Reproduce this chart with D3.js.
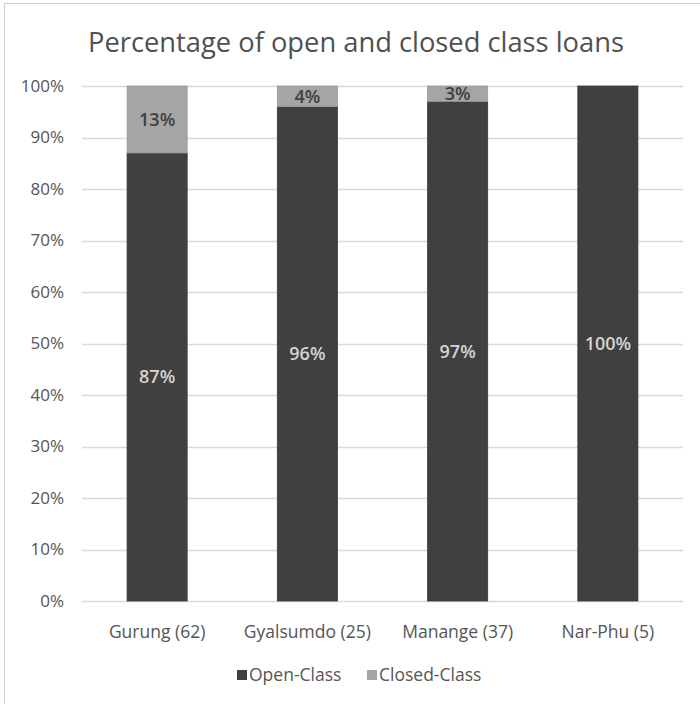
<!DOCTYPE html>
<html>
<head>
<meta charset="utf-8">
<script src="https://cdn.jsdelivr.net/npm/d3@7"></script>
<style>
  body { margin: 0; background: #fff; }
  svg { display: block; font-family: "Open Sans", "Noto Sans", sans-serif; }
</style>
</head>
<body>
<script>
const width = 700;
const height = 704;

const categories = ["Gurung (62)", "Gyalsumdo (25)", "Manange (37)", "Nar-Phu (5)"];
const openClass = [87, 96, 97, 100];
const closedClass = [13, 4, 3, 0];
const yTicks = [0, 10, 20, 30, 40, 50, 60, 70, 80, 90, 100];
const seriesNames = ["Open-Class", "Closed-Class"];
const seriesColors = ["#404040", "#a5a5a5"];

const svg = d3.select("body")
	.append("svg")
	.attr("width", width)
	.attr("height", height);

// chart frame (only top/left edge visible in the picture)
svg.append("rect")
	.attr("x", 4.5)
	.attr("y", 3.5)
	.attr("width", width)
	.attr("height", height)
	.attr("fill", "none")
	.attr("stroke", "#d0d0d0");

const x = d3.scaleBand()
	.domain(categories)
	.range([82, 683])
	.paddingInner(0.6)
	.paddingOuter(0.3);

const y = d3.scaleLinear()
	.domain([0, 100])
	.range([601, 86]);

// gridlines
svg.append("g")
	.selectAll("line")
	.data(yTicks)
	.enter()
	.append("line")
	.attr("x1", 82)
	.attr("x2", 683)
	.attr("y1", (d) => Math.round(y(d)) + 0.5)
	.attr("y2", (d) => Math.round(y(d)) + 0.5)
	.attr("stroke", "#d9d9d9")
	.attr("stroke-width", 1.5);

// y axis labels
svg.append("g")
	.selectAll("text")
	.data(yTicks)
	.enter()
	.append("text")
	.attr("x", 64)
	.attr("y", (d) => y(d))
	.attr("dy", "0.35em")
	.attr("text-anchor", "end")
	.attr("font-size", 17)
	.attr("fill", "#555")
	.text((d) => d + "%");

const rows = categories.map((c, i) => ({ cat: c, open: openClass[i], closed: closedClass[i] }));
const stacked = d3.stack().keys(["open", "closed"])(rows);

const layer = svg.append("g")
	.selectAll("g")
	.data(stacked)
	.enter()
	.append("g")
	.attr("fill", (d, i) => seriesColors[i]);

layer.selectAll("rect")
	.data((d) => d)
	.enter()
	.filter((d) => d[1] - d[0] > 0)
	.append("rect")
	.attr("x", (d) => x(d.data.cat))
	.attr("width", x.bandwidth())
	.attr("y", (d) => y(d[1]))
	.attr("height", (d) => y(d[0]) - y(d[1]))
	.attr("stroke", (d, i, n) => d3.select(n[i].parentNode).attr("fill") == "#404040" ? "#3a3a3a" : "#9a9a9a")
	.attr("stroke-width", 0.8);

// data labels
stacked.forEach((s, si) => {
	svg.append("g")
		.selectAll("text")
		.data(s.filter((d) => d[1] - d[0] > 0))
		.enter()
		.append("text")
		.attr("x", (d) => x(d.data.cat) + x.bandwidth() / 2)
		.attr("y", (d) => y((d[0] + d[1]) / 2))
		.attr("dy", "0.35em")
		.attr("text-anchor", "middle")
		.attr("font-size", 18)
		.attr("font-weight", 600)
		.attr("fill", si == 0 ? "#d4d4d4" : "#404040")
		.text((d) => (d[1] - d[0]) + "%");
});

// x axis labels
svg.append("g")
	.selectAll("text")
	.data(categories)
	.enter()
	.append("text")
	.attr("x", (d) => x(d) + x.bandwidth() / 2)
	.attr("y", 632)
	.attr("dy", "0.35em")
	.attr("text-anchor", "middle")
	.attr("font-size", 17.5)
	.attr("fill", "#555")
	.text((d) => d);

// title
svg.append("text")
	.attr("x", 356)
	.attr("y", 42)
	.attr("dy", "0.35em")
	.attr("text-anchor", "middle")
	.attr("font-size", 27.3)
	.attr("fill", "#505050")
	.text("Percentage of open and closed class loans");

// legend
const legendX = [237, 367];
const legend = svg.append("g")
	.selectAll("g")
	.data(seriesNames)
	.enter()
	.append("g")
	.attr("transform", (d, i) => "translate(" + legendX[i] + ",675)");

legend.append("rect")
	.attr("x", 0)
	.attr("y", -5)
	.attr("width", 10)
	.attr("height", 10)
	.attr("fill", (d, i) => seriesColors[i]);

legend.append("text")
	.attr("x", 12)
	.attr("dy", "0.35em")
	.attr("font-size", 17.5)
	.attr("fill", "#555")
	.text((d) => d);
</script>
</body>
</html>
